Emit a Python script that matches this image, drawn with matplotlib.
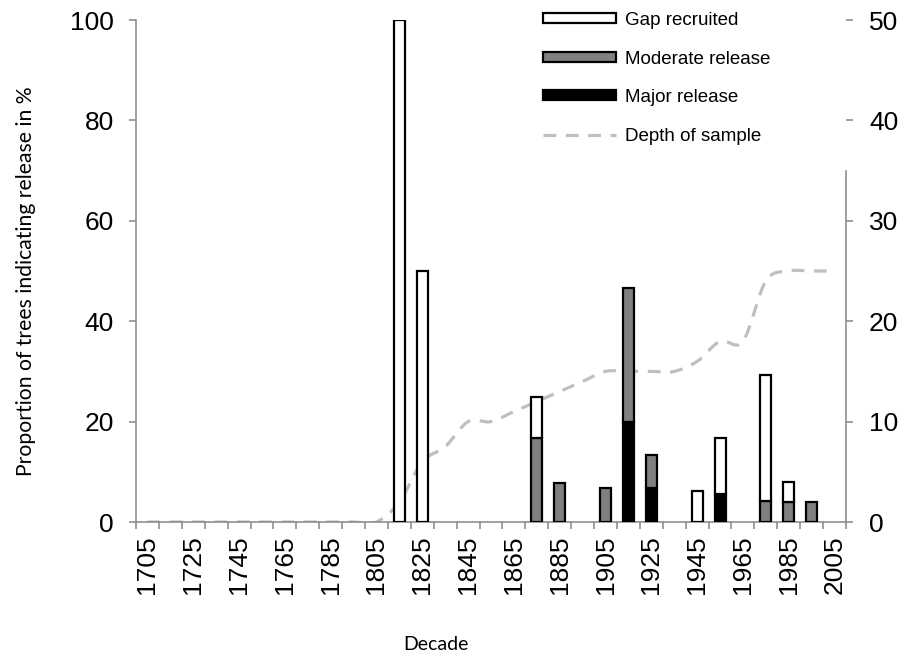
import numpy as np
import matplotlib
matplotlib.use("Agg")
import matplotlib.pyplot as plt
from matplotlib.path import Path
from matplotlib.patches import PathPatch, Patch
from matplotlib.lines import Line2D

plt.rcParams['font.family'] = ['Liberation Sans', 'DejaVu Sans']

# decades 1705..2005
decades = list(range(1705, 2006, 10))

# proportions (%) per decade, stacked: major at bottom, moderate, then gap recruited
major_release = {1915: 20.0, 1925: 6.7, 1955: 5.6}
moderate_release = {1875: 16.7, 1885: 7.7, 1905: 6.7, 1915: 26.7, 1925: 6.6,
                    1975: 4.2, 1985: 4.0, 1995: 4.0}
gap_recruited = {1815: 100.0, 1825: 50.0, 1875: 8.3, 1945: 6.25, 1955: 11.1,
                 1975: 25.0, 1985: 4.0}

# number of trees in sample (right axis)
depth = [0, 0, 0, 0, 0, 0, 0, 0, 0, 0, 0,
         2, 6, 7.5, 10, 10, 11, 12, 13, 14, 15,
         15, 15, 15, 16, 18, 18, 24, 25, 25, 25]

x = np.arange(len(decades))
maj = np.array([major_release.get(d, 0) for d in decades])
mod = np.array([moderate_release.get(d, 0) for d in decades])
gap = np.array([gap_recruited.get(d, 0) for d in decades])

fig = plt.figure(figsize=(9.06, 6.59), dpi=100)
ax = fig.add_axes([136/906, 1-522/659, (846-136)/906, (522-20)/659])
ax2 = ax.twinx()

spine_col = '#868686'
bw = 0.48
ax.bar(x, maj, bw, color='black', edgecolor='black', linewidth=1.6, zorder=3)
ax.bar(x, mod, bw, bottom=maj, color='#808080', edgecolor='black', linewidth=1.6, zorder=3)
ax.bar(x, gap, bw, bottom=maj + mod, color='white', edgecolor='black', linewidth=1.6, zorder=3)
# hide empty stacks (zero-height bars still draw an edge)
for cont in ax.containers:
    for r in cont:
        if r.get_height() == 0:
            r.set_visible(False)

# smoothed depth line (cubic bezier through the points)
yd = np.array(depth, dtype=float)
verts = [(x[0], yd[0])]
codes = [Path.MOVETO]
n = len(x)
for i in range(n - 1):
    p0 = np.array([x[max(i-1, 0)], yd[max(i-1, 0)]])
    p1 = np.array([x[i], yd[i]])
    p2 = np.array([x[i+1], yd[i+1]])
    p3 = np.array([x[min(i+2, n-1)], yd[min(i+2, n-1)]])
    c1 = p1 + (p2 - p0) / 6
    c2 = p2 - (p3 - p1) / 6
    verts += [tuple(c1), tuple(c2), tuple(p2)]
    codes += [Path.CURVE4] * 3
line_style = dict(color='#BFBFBF', linewidth=2.3, dashes=(4, 3), dash_capstyle='butt')
ax2.add_patch(PathPatch(Path(verts, codes), fill=False, edgecolor='#BFBFBF',
                        linewidth=2.3, linestyle=(0, (4, 3)), capstyle='butt', zorder=2))
ax.set_zorder(ax2.get_zorder() + 1)
ax.patch.set_visible(False)

ax.set_xlim(-0.5, len(decades) - 0.5)
ax.set_ylim(0, 100)
ax2.set_ylim(0, 50)
ax.set_yticks(np.arange(0, 101, 20))
ax2.set_yticks(np.arange(0, 51, 10))

ax.set_xticks(np.arange(-0.5, len(decades), 1))
ax.set_xticklabels([])
ax.set_xticks(x[::2], minor=True)
ax.set_xticklabels([str(d) for d in decades[::2]], minor=True, rotation=90, fontsize=19)
ax.tick_params(axis='x', which='major', length=5, width=1.1, color=spine_col, direction='out')
ax.tick_params(axis='x', which='minor', length=0, pad=9.5)
ax.tick_params(axis='y', length=5, width=1.1, color=spine_col, labelsize=19, pad=11)
ax2.tick_params(axis='y', length=5, width=1.1, color=spine_col, labelsize=19, pad=11.5)

for a in (ax, ax2):
    a.spines['top'].set_visible(False)
    for s in ('left', 'right', 'bottom'):
        a.spines[s].set_color(spine_col)
        a.spines[s].set_linewidth(1.1)
ax.spines['right'].set_visible(False)
ax2.spines['left'].set_visible(False)
ax2.spines['bottom'].set_visible(False)
ax2.spines['right'].set_bounds(0, 35)

fig.text(26/906, 1-281/659, 'Proportion of trees indicating release in %',
         rotation=90, ha='center', va='center', fontsize=15.2, family=['Lato', 'DejaVu Sans'])
fig.text(436/906, 1-644/659, 'Decade', ha='center', va='center', fontsize=14,
         family=['Lato', 'DejaVu Sans'])

handles = [Patch(facecolor='white', edgecolor='black', linewidth=1.6),
           Patch(facecolor='#808080', edgecolor='black', linewidth=1.6),
           Patch(facecolor='black', edgecolor='black', linewidth=1.6),
           Line2D([], [], **line_style)]
labels = ['Gap recruited', 'Moderate release', 'Major release', 'Depth of sample']
fig.legend(handles, labels, loc='upper left', bbox_to_anchor=(543/906, 1-12/659),
           frameon=False, fontsize=13.5, borderpad=0, borderaxespad=0,
           handlelength=3.9, handleheight=0.45, handletextpad=0.45, labelspacing=1.15)

fig.savefig('out.png', dpi=100)
